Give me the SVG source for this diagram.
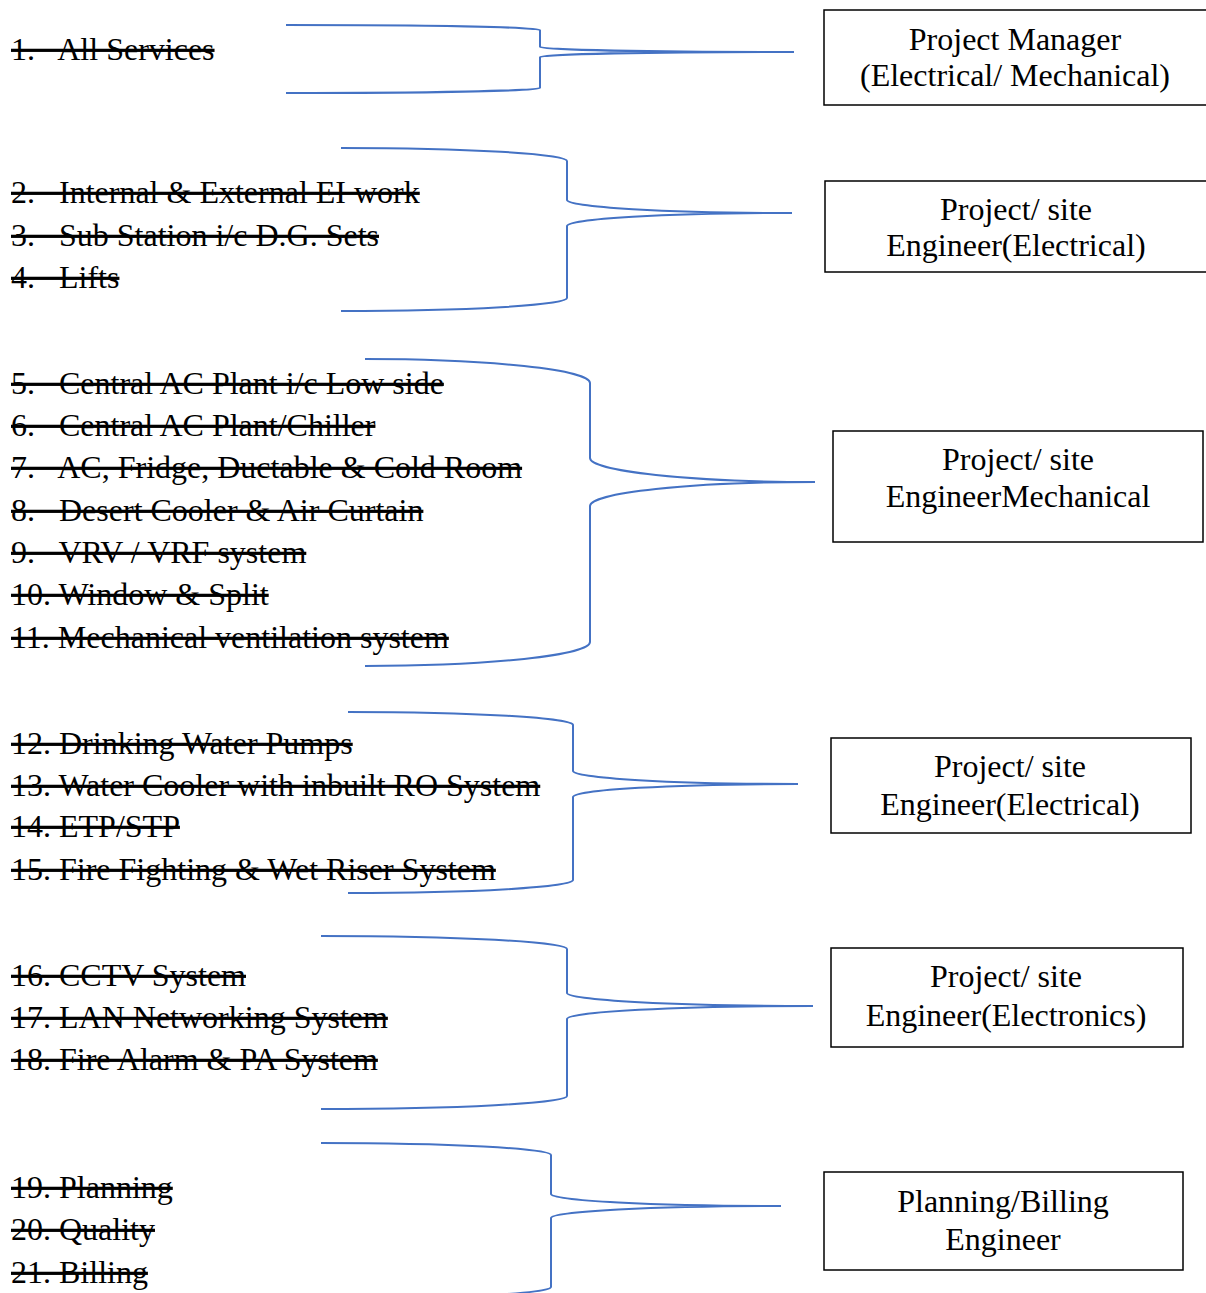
<svg xmlns="http://www.w3.org/2000/svg" width="1206" height="1293" viewBox="0 0 1206 1293">
<style>
.item{font-family:"Liberation Serif","Times New Roman",serif;font-size:32px;fill:#000;text-decoration:line-through;white-space:pre}
.box{fill:#fff;stroke:#000;stroke-width:1.5}
.lbl{font-family:"Liberation Serif","Times New Roman",serif;font-size:32px;fill:#000;text-anchor:middle}
.brace{fill:none;stroke:#4472C4;stroke-width:2}
</style>
<rect width="1206" height="1293" fill="#fff"/>
<g id="items">
<text class="item" x="11" y="60" xml:space="preserve">1.   All Services</text>
<text class="item" x="11" y="203" xml:space="preserve">2.   Internal &amp; External EI work</text>
<text class="item" x="11" y="246" xml:space="preserve">3.   Sub Station i/c D.G. Sets</text>
<text class="item" x="11" y="288" xml:space="preserve">4.   Lifts</text>
<text class="item" x="11" y="394" xml:space="preserve">5.   Central AC Plant i/c Low side</text>
<text class="item" x="11" y="436" xml:space="preserve">6.   Central AC Plant/Chiller</text>
<text class="item" x="11" y="478" xml:space="preserve">7.   AC, Fridge, Ductable &amp; Cold Room</text>
<text class="item" x="11" y="521" xml:space="preserve">8.   Desert Cooler &amp; Air Curtain</text>
<text class="item" x="11" y="563" xml:space="preserve">9.   VRV / VRF system</text>
<text class="item" x="11" y="605" xml:space="preserve">10. Window &amp; Split</text>
<text class="item" x="11" y="648" xml:space="preserve">11. Mechanical ventilation system</text>
<text class="item" x="11" y="754" xml:space="preserve">12. Drinking Water Pumps</text>
<text class="item" x="11" y="796" xml:space="preserve">13. Water Cooler with inbuilt RO System</text>
<text class="item" x="11" y="837" xml:space="preserve">14. ETP/STP</text>
<text class="item" x="11" y="880" xml:space="preserve">15. Fire Fighting &amp; Wet Riser System</text>
<text class="item" x="11" y="986" xml:space="preserve">16. CCTV System</text>
<text class="item" x="11" y="1028" xml:space="preserve">17. LAN Networking System</text>
<text class="item" x="11" y="1070" xml:space="preserve">18. Fire Alarm &amp; PA System</text>
<text class="item" x="11" y="1198" xml:space="preserve">19. Planning</text>
<text class="item" x="11" y="1240" xml:space="preserve">20. Quality</text>
<text class="item" x="11" y="1283" xml:space="preserve">21. Billing</text>
</g>
<g id="connectors">
<path class="brace" d="M286,25 A254,5 0 0 1 540,30 L540,47 A254,5 0 0 0 794,52 A254,5 0 0 0 540,57 L540,88 A254,5 0 0 1 286,93"/>
<path class="brace" d="M341,148 A226,13 0 0 1 567,161 L567,200 A226,13 0 0 0 792,213 A226,13 0 0 0 567,226 L567,298 A226,13 0 0 1 341,311"/>
<path class="brace" d="M365,359 A225,24 0 0 1 590,383 L590,458 A225,24 0 0 0 815,482 A225,24 0 0 0 590,506 L590,642 A225,24 0 0 1 365,666"/>
<path class="brace" d="M348,712 A225,13 0 0 1 573,725 L573,771 A225,13 0 0 0 798,784 A225,13 0 0 0 573,797 L573,880 A225,13 0 0 1 348,893"/>
<path class="brace" d="M321,936 A246,13 0 0 1 567,949 L567,993 A246,13 0 0 0 813,1006 A246,13 0 0 0 567,1019 L567,1096 A246,13 0 0 1 321,1109"/>
<path class="brace" d="M321,1143 A230,12 0 0 1 551,1155 L551,1194 A230,12 0 0 0 781,1206 A230,12 0 0 0 551,1218 L551,1287 A230,12 0 0 1 321,1299"/>
</g>
<g id="node-pm">
<rect class="box" x="824" y="10" width="390" height="95"/>
<text class="lbl" x="1015" y="50">Project Manager</text>
<text class="lbl" x="1015" y="86">(Electrical/ Mechanical)</text>
</g>
<g id="node-electrical-1">
<rect class="box" x="825" y="181" width="390" height="91"/>
<text class="lbl" x="1016" y="220">Project/ site</text>
<text class="lbl" x="1016" y="256">Engineer(Electrical)</text>
</g>
<g id="node-mechanical">
<rect class="box" x="833" y="431" width="370" height="111"/>
<text class="lbl" x="1018" y="470">Project/ site</text>
<text class="lbl" x="1018" y="507">EngineerMechanical</text>
</g>
<g id="node-electrical-2">
<rect class="box" x="831" y="738" width="360" height="95"/>
<text class="lbl" x="1010" y="777">Project/ site</text>
<text class="lbl" x="1010" y="815">Engineer(Electrical)</text>
</g>
<g id="node-electronics">
<rect class="box" x="831" y="948" width="352" height="99"/>
<text class="lbl" x="1006" y="987">Project/ site</text>
<text class="lbl" x="1006" y="1026">Engineer(Electronics)</text>
</g>
<g id="node-planning">
<rect class="box" x="824" y="1172" width="359" height="98"/>
<text class="lbl" x="1003" y="1212">Planning/Billing</text>
<text class="lbl" x="1003" y="1250">Engineer</text>
</g>
</svg>
